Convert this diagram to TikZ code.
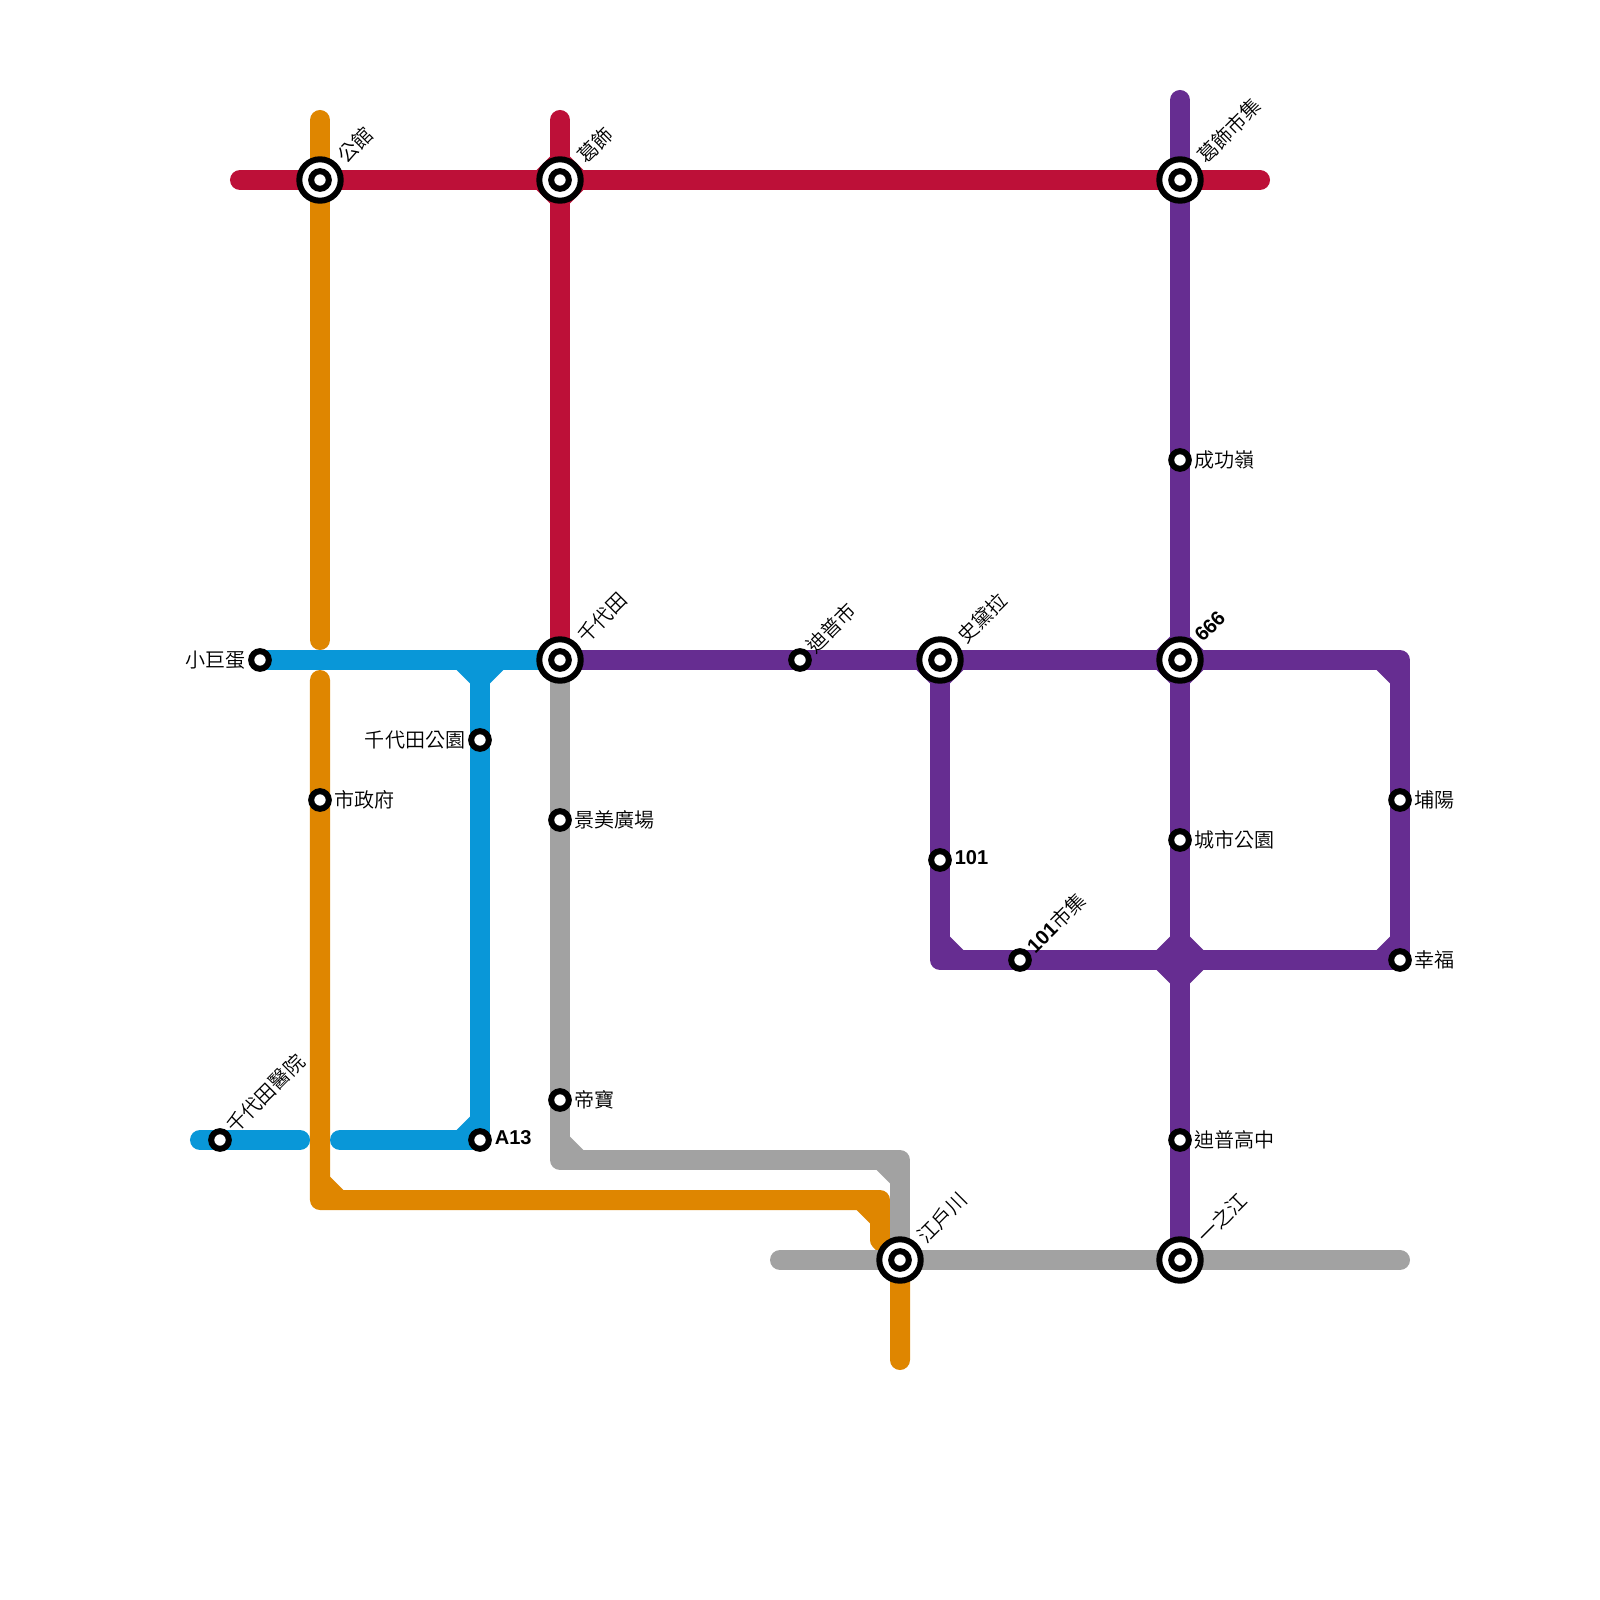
\documentclass[tikz,border=0pt]{standalone}
\usepackage{fontspec}
\usepackage{xcolor}
\usetikzlibrary{positioning,backgrounds}
\setmainfont{Liberation Sans}
\newfontfamily\cjk{Noto Sans CJK TC DemiLight}
\definecolor{MetroRed}   {HTML}{BD1038}
\definecolor{MetroOrange}{HTML}{DF8600}
\definecolor{MetroBlue}  {HTML}{0997D8}
\definecolor{MetroPurple}{HTML}{662D91}
\definecolor{MetroGray}  {HTML}{A2A2A2}
\newcommand{\numb}[1]{{\rmfamily\bfseries #1}}

\begin{document}
\begin{tikzpicture}[x=0.01cm,y=-0.01cm,
    route/.style={line width=0.2cm,line cap=round,line join=round},
    stdot/.style={circle,draw=black,fill=white,line width=0.06cm,minimum size=0.176cm,inner sep=0pt,outer sep=0pt},
    stbig/.style={circle,draw=black,fill=white,line width=0.06cm,minimum size=0.414cm,inner sep=0pt,outer sep=0pt},
    lbl/.style={font=\fontsize{5.7}{6}\selectfont\cjk,text=black,inner sep=0pt,outer sep=0pt},
    lbldiag/.style={lbl,anchor=west,rotate=45}
  ]
    \useasboundingbox (0,0) rectangle (1600,1600);
    % interchanges
    \foreach \n/\x/\y/\t in {sGongGuan/320/180/公館,sGeShi/560/180/葛飾,sGeShiMkt/1180/180/葛飾市集,
        sQianDai/560/660/千代田,sShiDaiLa/940/660/史黛拉,
        sJiangHu/900/1260/江戶川,sYiZhi/1180/1260/一之江}{
      \node[stbig](\n) at (\x,\y){};
      \node[stdot](\n-in) at (\n.center){};
      \node[lbldiag](\n-lbl) at ([shift={(21,-21)}]\n.center){\t};
    }
    \node[stbig](s666) at (1180,660){};
    \node[stdot](s666-in) at (s666.center){};
    \node[lbldiag](s666-lbl) at ([shift={(18,-22)}]s666.center){\numb{666}};
    % plain stops, diagonal label
    \foreach \n/\x/\y/\t in {sDiPuShi/800/660/迪普市,s101Mkt/1020/960/\numb{101}市集,sQianHosp/220/1140/千代田醫院}{
      \node[stdot](\n) at (\x,\y){};
      \node[lbldiag](\n-lbl) at ([shift={(10,-11)}]\n.center){\t};
    }
    % plain stops, label on the right
    \foreach \n/\x/\y/\t in {sChengGong/1180/460/成功嶺,sShiZheng/320/800/市政府,sJingMei/560/820/景美廣場,
        sCityPark/1180/840/城市公園,sBuYang/1400/800/埔陽,sXingFu/1400/960/幸福,sDiBao/560/1100/帝寶,
        sDiPuHigh/1180/1140/迪普高中}{
      \node[stdot](\n) at (\x,\y){};
      \node[lbl,right=0.06cm of \n](\n-lbl){\t};
    }
    \foreach \n/\x/\y/\t in {s101/940/860/101,sA13/480/1140/A13}{
      \node[stdot](\n) at (\x,\y){};
      \node[lbl,right=0.06cm of \n,yshift=0.02cm](\n-lbl){\numb{\t}};
    }
    % plain stops, label on the left
    \foreach \n/\x/\y/\t in {sDome/260/660/小巨蛋,sQianPark/480/740/千代田公園}{
      \node[stdot](\n) at (\x,\y){};
      \node[lbl,left=0.06cm of \n](\n-lbl){\t};
    }
    \begin{scope}[on background layer]
      % line ends and bends
      \coordinate (redW) at (240,180);
      \coordinate (redE) at (1260,180);
      \coordinate (redN) at (560,120);
      \coordinate (purN) at (1180,100);
      \coordinate (purNE) at (1400,660);
      \coordinate (purSE) at (1400,960);
      \coordinate (purSW) at (940,960);
      \coordinate (purX) at (1180,960);
      \coordinate (bluT) at (480,660);
      \coordinate (bluA) at (200,1140);
      \coordinate (bluB) at (300,1140);
      \coordinate (bluC) at (340,1140);
      \coordinate (oraN) at (320,120);
      \coordinate (oraG1) at (320,640);
      \coordinate (oraG2) at (320,680);
      \coordinate (oraSW) at (320,1200);
      \coordinate (oraSE) at (880,1200);
      \coordinate (oraEnd) at (880,1240);
      \coordinate (oraS) at (900,1360);
      \coordinate (grySW) at (560,1160);
      \coordinate (grySE) at (900,1160);
      \coordinate (gryW) at (780,1260);
      \coordinate (gryE) at (1400,1260);
      \draw[route,MetroOrange](oraN)--(oraG1);
      \draw[route,MetroOrange](oraG2)--(oraSW)--(oraSE)--(oraEnd)--(sJiangHu.center)--(oraS);
      \draw[route,MetroBlue](sDome.center)--(sQianDai.center);
      \draw[route,MetroBlue](bluT)--(sA13.center)--(bluC);
      \draw[route,MetroBlue](bluA)--(bluB);
      \draw[route,MetroRed](redW)--(redE);
      \draw[route,MetroRed](redN)--(sQianDai.center);
      \draw[route,MetroGray](sQianDai.center)--(grySW)--(grySE)--(sJiangHu.center);
      \draw[route,MetroGray](gryW)--(gryE);
      \draw[route,MetroPurple](purN)--(sYiZhi.center);
      \draw[route,MetroPurple](sQianDai.center)--(purNE)--(purSE)--(purSW)--(sShiDaiLa.center);
      % chamfers in the inner corners
      \foreach \c/\sx/\sy in {sGeShi/1/1,sGeShi/-1/1,sGeShi/1/-1,sGeShi/-1/-1}
        \fill[MetroRed](\c.center) +(23.3*\sx,10*\sy) -- +(10*\sx,23.3*\sy) -- +(0,0) -- cycle;
      \foreach \c/\sx/\sy in {bluT/1/1,bluT/-1/1}
        \fill[MetroBlue](\c) +(23.3*\sx,10*\sy) -- +(10*\sx,23.3*\sy) -- +(0,0) -- cycle;
      \fill[MetroBlue](sA13.center) +(-23.3,-10) -- +(-10,-23.3) -- +(0,0) -- cycle;
      \fill[MetroOrange](oraSW) +(23.3,-10) -- +(10,-23.3) -- +(0,0) -- cycle;
      \fill[MetroOrange](oraSE) +(-23.3,10) -- +(-10,23.3) -- +(0,0) -- cycle;
      \fill[MetroGray](grySW) +(23.3,-10) -- +(10,-23.3) -- +(0,0) -- cycle;
      \fill[MetroGray](grySE) +(-23.3,10) -- +(-10,23.3) -- +(0,0) -- cycle;
      \foreach \c/\sx/\sy in {purX/1/1,purX/-1/1,purX/1/-1,purX/-1/-1,s666/1/1,s666/-1/1,s666/1/-1,s666/-1/-1,
          sShiDaiLa/1/1,sShiDaiLa/-1/1,purNE/-1/1,purSE/-1/-1,purSW/1/-1}
        \fill[MetroPurple](\c) +(23.3*\sx,10*\sy) -- +(10*\sx,23.3*\sy) -- +(0,0) -- cycle;
    \end{scope}
  \end{tikzpicture}
\end{document}
